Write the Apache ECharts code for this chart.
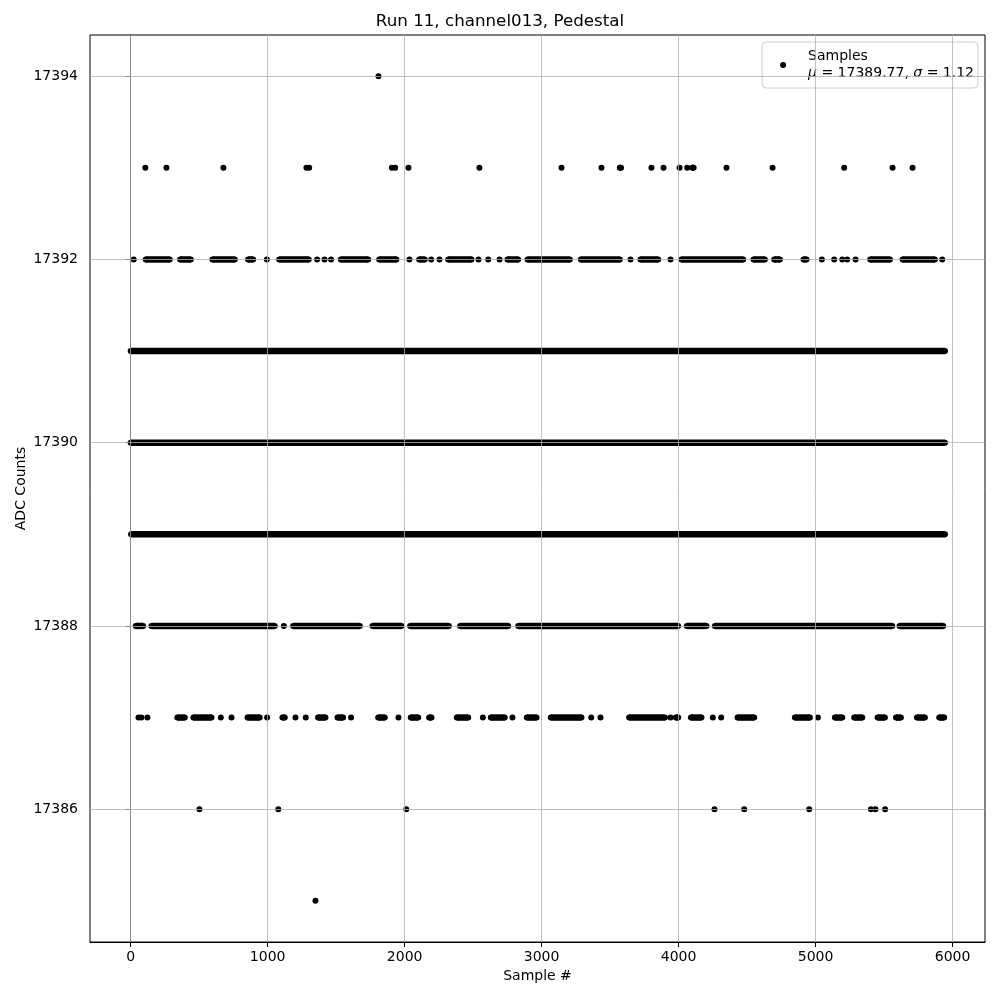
<!DOCTYPE html>
<html>
<head>
<meta charset="utf-8">
<script src="https://cdn.jsdelivr.net/npm/echarts@6/dist/echarts.min.js"></script>
<style>html,body{margin:0;padding:0;background:#fff}#c{width:1000px;height:1000px}</style>
</head>
<body>
<div id="c"></div>
<script>
// ADC level rows, each as runs of consecutive sample indices [first, last]
const runs17394 = [[1809,1809]];
const runs17393 = [[107,107],[261,261],[677,677],[1283,1283],[1303,1303],[1907,1907],[1931,1931],[2028,2028],[2546,2546],[3145,3145],[3437,3437],[3571,3580],[3802,3802],[3890,3890],[4007,4007],[4063,4063],[4100,4110],[4350,4350],[4686,4686],[5209,5209],[5562,5562],[5708,5708]];
const runs17392 = [[22,22],[110,285],[361,439],[597,760],[857,894],[994,994],[1084,1300],[1361,1361],[1415,1415],[1463,1463],[1534,1734],[1814,1940],[2035,2035],[2106,2147],[2194,2194],[2254,2254],[2318,2488],[2539,2539],[2610,2610],[2693,2693],[2751,2829],[2897,3206],[3286,3571],[3649,3649],[3722,3851],[3941,3941],[4021,4472],[4547,4630],[4698,4740],[4912,4934],[5046,5046],[5136,5136],[5195,5195],[5231,5231],[5292,5292],[5399,5543],[5635,5871],[5925,5925]];
const runs17391 = [[0,5945]];
const runs17390 = [[0,5945]];
const runs17389 = [[3,5945]];
const runs17388 = [[37,91],[151,1052],[1118,1118],[1186,1673],[1765,1977],[2040,2323],[2405,2756],[2829,3997],[4060,4204],[4265,5560],[5613,5932]];
const runs17387 = [[57,57],[78,78],[122,122],[341,395],[458,590],[658,658],[736,736],[853,942],[996,996],[1108,1125],[1203,1203],[1278,1278],[1368,1422],[1510,1551],[1609,1609],[1807,1855],[1955,1955],[2045,2099],[2179,2196],[2381,2464],[2571,2571],[2629,2731],[2787,2787],[2892,2963],[3067,3291],[3362,3362],[3430,3430],[3639,3900],[3941,3941],[3980,3997],[4090,4167],[4250,4250],[4311,4311],[4430,4552],[4849,4959],[5017,5017],[5141,5195],[5282,5341],[5453,5506],[5587,5623],[5740,5798],[5903,5939]];
const runs17386 = [[502,502],[1078,1078],[2012,2012],[4262,4262],[4479,4479],[4954,4954],[5404,5404],[5437,5437],[5508,5508]];
const runs17385 = [[1349,1349]];

const levels = [17394,17393,17392,17391,17390,17389,17388,17387,17386,17385];
const levelRuns = [runs17394,runs17393,runs17392,runs17391,runs17390,runs17389,runs17388,runs17387,runs17386,runs17385];

const xTicks = [0,1000,2000,3000,4000,5000,6000];
const yTicks = [17386,17388,17390,17392,17394];
const xRange = [-297, 6237];
const yRange = [17384.55, 17394.45];

const titleText = 'Run 11, channel013, Pedestal';
const legendName = 'Samples';
const statMu = '17389.77';
const statSigma = '1.12';

const points = [];
const segments = [];
levels.forEach((lv, i) => {
  levelRuns[i].forEach(r => {
    points.push([r[0], lv]);
    if (r[1] !== r[0]) {
      points.push([r[1], lv]);
      segments.push([r[0], r[1], lv]);
    }
  });
});

const FONT = 'DejaVu Sans';
const DOT = 6;
const BAND = 6.5;
const gridStyle = {color: '#b0b0b0', width: 0.8, type: 'solid'};

const chart = echarts.init(document.getElementById('c'), null, {renderer: 'canvas'});
chart.setOption({
  animation: false,
  backgroundColor: '#fff',
  title: {
    text: titleText, left: 'center', top: 8,
    textStyle: {fontFamily: FONT, fontSize: 16.7, fontWeight: 'normal', color: '#000'}
  },
  grid: {left: 90, right: 15, top: 35, bottom: 58, show: true, borderColor: '#000', borderWidth: 1, backgroundColor: 'transparent'},
  legend: {
    data: [legendName], right: 22, top: 42, orient: 'vertical',
    itemWidth: 40, itemHeight: DOT, icon: 'circle', selectedMode: false,
    padding: [6, 4, 6, 18],
    backgroundColor: 'rgba(255,255,255,0.8)', borderColor: '#cccccc', borderWidth: 1, borderRadius: 4,
    formatter: () => legendName + '\n{i|μ} = ' + statMu + ', {i|σ} = ' + statSigma,
    textStyle: {fontFamily: FONT, fontSize: 14, color: '#000', lineHeight: 17,
      rich: {i: {fontFamily: FONT, fontStyle: 'italic', fontSize: 14, color: '#000', lineHeight: 17}}}
  },
  xAxis: {
    type: 'value', min: xRange[0], max: xRange[1],
    name: 'Sample #', nameLocation: 'middle', nameGap: 27,
    nameTextStyle: {fontFamily: FONT, fontSize: 14, color: '#000'},
    axisLine: {show: true, lineStyle: {color: '#000', width: 1}},
    axisTick: {show: true, length: 5, lineStyle: {color: '#000', width: 1}, customValues: xTicks},
    axisLabel: {customValues: xTicks, margin: 8, fontFamily: FONT, fontSize: 14, color: '#000', formatter: v => String(v)},
    splitLine: {show: false}
  },
  yAxis: {
    type: 'value', min: yRange[0], max: yRange[1],
    name: 'ADC Counts', nameLocation: 'middle', nameGap: 62, nameRotate: 90, nameMoveOverlap: false,
    nameTextStyle: {fontFamily: FONT, fontSize: 14, color: '#000'},
    axisLine: {show: true, lineStyle: {color: '#000', width: 1}},
    axisTick: {show: true, length: 5, lineStyle: {color: '#000', width: 1}, customValues: yTicks},
    axisLabel: {customValues: yTicks, margin: 12, fontFamily: FONT, fontSize: 14, color: '#000', formatter: v => String(v)},
    splitLine: {show: false}
  },
  series: [
    {
      type: 'scatter', name: 'grid', data: [], z: 1, silent: true,
      markLine: {
        silent: true, symbol: ['none', 'none'], label: {show: false}, animation: false,
        lineStyle: gridStyle,
        data: xTicks.map(v => ({xAxis: v})).concat(yTicks.map(v => ({yAxis: v})))
      }
    },
    {
      type: 'custom', data: segments, z: 3, silent: true,
      encode: {x: [0, 1], y: 2},
      renderItem: (params, api) => {
        const a = api.coord([api.value(0), api.value(2)]);
        const b = api.coord([api.value(1), api.value(2)]);
        return {type: 'rect', shape: {x: a[0], y: a[1] - BAND / 2, width: b[0] - a[0], height: BAND}, style: {fill: '#000'}};
      }
    },
    {
      type: 'scatter', name: legendName, data: points, z: 4, silent: true,
      symbol: 'circle', symbolSize: DOT,
      itemStyle: {color: '#000', opacity: 1}
    }
  ]
});
</script>
</body>
</html>
